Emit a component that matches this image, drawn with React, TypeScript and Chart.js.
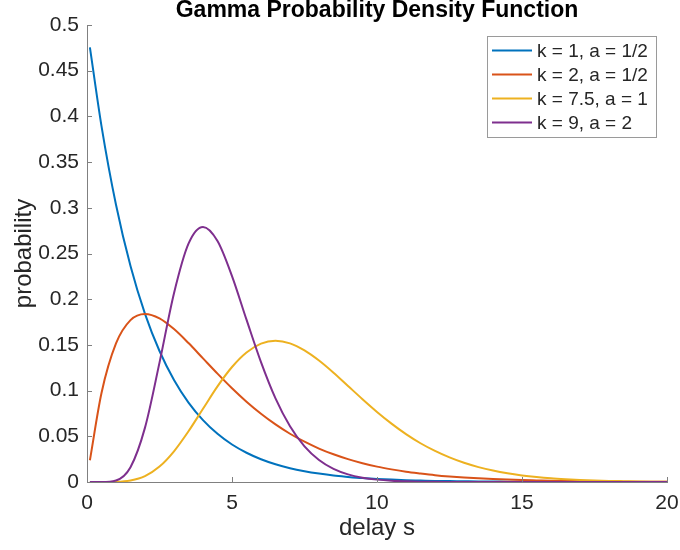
import { useEffect, useRef } from "react";
import { Chart, registerables } from "chart.js";

Chart.register(...registerables);

// Delay values (s) at which each density is sampled
const X_VALUES = [
  0.1, 0.5, 1, 1.5, 2, 2.5, 3, 3.5, 4, 4.5, 5, 5.5, 6, 6.5, 7, 7.5, 8, 8.5, 9, 9.5, 10,
  10.5, 11, 11.5, 12, 12.5, 13, 13.5, 14, 14.5, 15, 15.5, 16, 16.5, 17, 17.5, 18, 18.5,
  19, 19.5, 20,
];

// k = 1, a = 1/2
const K1_A_HALF = [
  0.4756, 0.3894, 0.3033, 0.2362, 0.1839, 0.1433, 0.1116, 0.0869, 0.0677, 0.0527, 0.041,
  0.032, 0.0249, 0.0194, 0.0151, 0.0118, 0.0092, 0.0071, 0.0056, 0.0043, 0.0034, 0.0026,
  0.002, 0.0016, 0.0012, 0.001, 0.0008, 0.0006, 0.0005, 0.0004, 0.0003, 0.0002, 0.0002,
  0.0001, 0.0001, 0.0001, 0.0001, 0.00005, 0.00004, 0.00003, 0.00002,
];

// k = 2, a = 1/2
const K2_A_HALF = [
  0.0238, 0.0974, 0.1516, 0.1771, 0.1839, 0.1791, 0.1673, 0.152, 0.1353, 0.1186, 0.1026,
  0.0879, 0.0747, 0.063, 0.0528, 0.0441, 0.0366, 0.0303, 0.025, 0.0205, 0.0168, 0.0138,
  0.0112, 0.0092, 0.0074, 0.006, 0.0049, 0.004, 0.0032, 0.0026, 0.0021, 0.0017, 0.0013,
  0.0011, 0.0009, 0.0007, 0.0006, 0.0004, 0.0004, 0.0003, 0.0002,
];

// k = 7.5, a = 1
const K75_A1 = [
  0, 0, 0.0002, 0.0017, 0.0065, 0.0169, 0.0336, 0.0555, 0.0801, 0.1046, 0.1258, 0.1417,
  0.1514, 0.1545, 0.1517, 0.144, 0.1329, 0.1196, 0.1051, 0.0906, 0.0767, 0.0639, 0.0524,
  0.0424, 0.034, 0.0269, 0.021, 0.0163, 0.0125, 0.0095, 0.0072, 0.0054, 0.004, 0.003,
  0.0022, 0.0016, 0.0012, 0.0009, 0.0006, 0.0004, 0.0003,
];

// k = 9, a = 2
const K9_A2 = [
  0, 0, 0.0017, 0.0162, 0.0595, 0.1306, 0.2066, 0.2608, 0.2791, 0.2637, 0.2253, 0.1776,
  0.1311, 0.0914, 0.0609, 0.0389, 0.024, 0.0143, 0.0083, 0.0047, 0.0026, 0.0014, 0.0008,
  0.0004, 0.0002, 0.0001, 0.00005, 0, 0, 0, 0, 0, 0, 0, 0, 0, 0, 0, 0, 0, 0,
];

const SERIES_LABELS = ["k = 1, a = 1/2", "k = 2, a = 1/2", "k = 7.5, a = 1", "k = 9, a = 2"];
const SERIES_VALUES = [K1_A_HALF, K2_A_HALF, K75_A1, K9_A2];
const SERIES_COLORS = ["#0072BD", "#D95319", "#EDB120", "#7E2F8E"];

const X_TICKS = [0, 5, 10, 15, 20];
const Y_TICKS = [0, 0.05, 0.1, 0.15, 0.2, 0.25, 0.3, 0.35, 0.4, 0.45, 0.5];

const TITLE = "Gamma Probability Density Function";
const X_LABEL = "delay s";
const Y_LABEL = "probability";

const FONT = "'Liberation Sans', Arial, Helvetica, sans-serif";
const TEXT_COLOR = "#262626";
const AXIS_COLOR = "#808080";

// Title, axis labels, inward tick marks and the boxed legend
const decorations = {
  id: "decorations",
  afterDraw(chart: Chart) {
    const { ctx, chartArea } = chart;
    const xs = chart.scales.x;
    const ys = chart.scales.y;
    const cx = (chartArea.left + chartArea.right) / 2;
    const cy = (chartArea.top + chartArea.bottom) / 2;

    ctx.save();

    // inward ticks
    ctx.strokeStyle = AXIS_COLOR;
    ctx.lineWidth = 1;
    ctx.beginPath();
    for (const v of X_TICKS) {
      const px = Math.round(xs.getPixelForValue(v)) + 0.5;
      ctx.moveTo(px, chartArea.bottom);
      ctx.lineTo(px, chartArea.bottom - 5);
    }
    for (const v of Y_TICKS) {
      const py = Math.round(ys.getPixelForValue(v)) + 0.5;
      ctx.moveTo(chartArea.left, py);
      ctx.lineTo(chartArea.left + 5, py);
    }
    ctx.stroke();

    // title
    ctx.fillStyle = "#000000";
    ctx.font = `bold 23px ${FONT}`;
    ctx.textAlign = "center";
    ctx.textBaseline = "alphabetic";
    ctx.fillText(TITLE, cx, 17);

    // axis labels
    ctx.fillStyle = TEXT_COLOR;
    ctx.font = `24px ${FONT}`;
    ctx.fillText(X_LABEL, cx, 535);
    ctx.save();
    ctx.translate(24, cy);
    ctx.rotate(-Math.PI / 2);
    ctx.textBaseline = "middle";
    ctx.fillText(Y_LABEL, 0, 0);
    ctx.restore();

    // legend
    const boxRight = chartArea.right - 11;
    const boxTop = chartArea.top + 11;
    const boxW = 169;
    const boxH = 101;
    const boxLeft = boxRight - boxW;
    ctx.fillStyle = "#ffffff";
    ctx.fillRect(boxLeft, boxTop, boxW, boxH);
    ctx.strokeStyle = "#9a9a9a";
    ctx.strokeRect(boxLeft + 0.5, boxTop + 0.5, boxW, boxH);
    ctx.font = `19px ${FONT}`;
    ctx.textAlign = "left";
    ctx.textBaseline = "middle";
    chart.data.datasets.forEach((ds, i) => {
      const rowY = boxTop + 14.5 + i * 24;
      ctx.strokeStyle = ds.borderColor as string;
      ctx.lineWidth = 2;
      ctx.beginPath();
      ctx.moveTo(boxLeft + 5, rowY);
      ctx.lineTo(boxLeft + 45, rowY);
      ctx.stroke();
      ctx.fillStyle = TEXT_COLOR;
      ctx.fillText(ds.label as string, boxLeft + 50, rowY + 1);
    });

    ctx.restore();
  },
};

// Keep tick-label overhang from pushing the plot area inward
const clearScalePadding = (s: any) => {
  s.paddingLeft = 0;
  s.paddingRight = 0;
  s.paddingTop = 0;
  s.paddingBottom = 0;
};

export default function App() {
  const canvasRef = useRef<HTMLCanvasElement | null>(null);

  useEffect(() => {
    const canvas = canvasRef.current;
    if (!canvas) return;

    const chart = new Chart(canvas, {
      type: "line",
      data: {
        datasets: SERIES_VALUES.map((values, i) => ({
          label: SERIES_LABELS[i],
          data: X_VALUES.map((x, j) => ({ x, y: values[j] })),
          borderColor: SERIES_COLORS[i],
          backgroundColor: SERIES_COLORS[i],
          borderWidth: 2,
          pointRadius: 0,
          fill: false,
          cubicInterpolationMode: "monotone" as const,
          order: SERIES_VALUES.length - 1 - i,
        })),
      },
      options: {
        animation: false,
        responsive: false,
        devicePixelRatio: 1,
        events: [],
        layout: { padding: { left: 0, top: 25, right: 13, bottom: 0 } },
        plugins: {
          legend: { display: false },
          title: { display: false },
          tooltip: { enabled: false },
        },
        scales: {
          x: {
            type: "linear",
            min: 0,
            max: 20,
            afterFit: (s: any) => {
              s.height = 68;
              clearScalePadding(s);
            },
            afterBuildTicks: (s: any) => {
              s.ticks = X_TICKS.map((value) => ({ value }));
            },
            grid: { display: false, drawTicks: false, tickLength: 0 },
            border: { display: true, color: AXIS_COLOR, width: 1 },
            ticks: {
              color: TEXT_COLOR,
              font: { family: FONT, size: 21 },
              padding: 9,
              maxRotation: 0,
              autoSkip: false,
              callback: (v: any) => String(v),
            },
          },
          y: {
            type: "linear",
            min: 0,
            max: 0.5,
            afterFit: (s: any) => {
              s.width = 87;
              clearScalePadding(s);
            },
            afterBuildTicks: (s: any) => {
              s.ticks = Y_TICKS.map((value) => ({ value }));
            },
            grid: { display: false, drawTicks: false, tickLength: 0 },
            border: { display: true, color: AXIS_COLOR, width: 1 },
            ticks: {
              color: TEXT_COLOR,
              font: { family: FONT, size: 21 },
              padding: 8,
              autoSkip: false,
              callback: (v: any) => String(Number(Number(v).toFixed(2))),
            },
          },
        },
      },
      plugins: [decorations],
    });

    return () => chart.destroy();
  }, []);

  return (
    <div style={{ position: "absolute", left: 0, top: 0, width: 680, height: 550, background: "#ffffff" }}>
      <canvas ref={canvasRef} width={680} height={550} />
    </div>
  );
}
